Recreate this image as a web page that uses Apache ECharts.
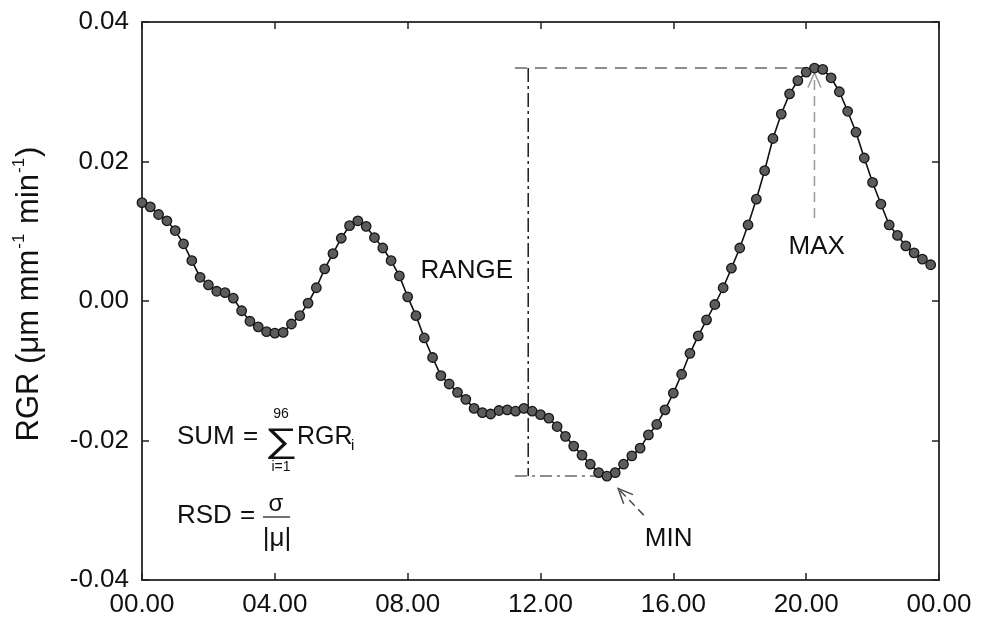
<!DOCTYPE html>
<html>
<head>
<meta charset="utf-8">
<script src="https://cdn.jsdelivr.net/npm/echarts@6/dist/echarts.min.js"></script>
<style>
  html, body { margin: 0; padding: 0; background: #fff; }
  #chart { width: 983px; height: 622px; }
</style>
</head>
<body>
<div id="chart"></div>
<script>
// Relative growth rate sampled every 15 minutes over one day (96 samples).
const sampleHours = [
  0.00, 0.25, 0.50, 0.75, 1.00, 1.25, 1.50, 1.75, 2.00, 2.25, 2.50, 2.75,
  3.00, 3.25, 3.50, 3.75, 4.00, 4.25, 4.50, 4.75, 5.00, 5.25, 5.50, 5.75,
  6.00, 6.25, 6.50, 6.75, 7.00, 7.25, 7.50, 7.75, 8.00, 8.25, 8.50, 8.75,
  9.00, 9.25, 9.50, 9.75, 10.00, 10.25, 10.50, 10.75, 11.00, 11.25, 11.50, 11.75,
  12.00, 12.25, 12.50, 12.75, 13.00, 13.25, 13.50, 13.75, 14.00, 14.25, 14.50, 14.75,
  15.00, 15.25, 15.50, 15.75, 16.00, 16.25, 16.50, 16.75, 17.00, 17.25, 17.50, 17.75,
  18.00, 18.25, 18.50, 18.75, 19.00, 19.25, 19.50, 19.75, 20.00, 20.25, 20.50, 20.75,
  21.00, 21.25, 21.50, 21.75, 22.00, 22.25, 22.50, 22.75, 23.00, 23.25, 23.50, 23.75
];
const rgrValues = [
  0.0141, 0.0135, 0.0124, 0.0115, 0.0101, 0.0082, 0.0058, 0.0034, 0.0023, 0.0014, 0.0012, 0.0004,
  -0.0014, -0.0029, -0.0037, -0.0044, -0.0046, -0.0045, -0.0033, -0.0021, -0.0003, 0.0019, 0.0046, 0.0068,
  0.0090, 0.0108, 0.0115, 0.0107, 0.0091, 0.0076, 0.0058, 0.0036, 0.0006, -0.0021, -0.0053, -0.0081,
  -0.0107, -0.0119, -0.0131, -0.0141, -0.0154, -0.0160, -0.0162, -0.0157, -0.0156, -0.0158, -0.0154, -0.0158,
  -0.0163, -0.0168, -0.0180, -0.0194, -0.0208, -0.0221, -0.0234, -0.0246, -0.0251, -0.0246, -0.0234, -0.0222,
  -0.0211, -0.0192, -0.0177, -0.0156, -0.0132, -0.0105, -0.0075, -0.0050, -0.0027, -0.0005, 0.0019, 0.0047,
  0.0076, 0.0109, 0.0146, 0.0187, 0.0233, 0.0268, 0.0297, 0.0316, 0.0328, 0.0334, 0.0332, 0.0320,
  0.0300, 0.0272, 0.0242, 0.0205, 0.0170, 0.0139, 0.0109, 0.0094, 0.0079, 0.0069, 0.0060, 0.0052
];
const xTickLabels = ['00.00', '04.00', '08.00', '12.00', '16.00', '20.00', '00.00'];
const yTickLabels = ['-0.04', '-0.02', '0.00', '0.02', '0.04'];

// Range guide: extremes of the series and where the bracket sits (hours).
const maxIndex = rgrValues.indexOf(Math.max(...rgrValues));
const minIndex = rgrValues.indexOf(Math.min(...rgrValues));
const maxHour = sampleHours[maxIndex], maxValue = rgrValues[maxIndex];
const minHour = sampleHours[minIndex], minValue = rgrValues[minIndex];
const rangeStartHour = 11.23;
const rangeBarHour = 11.63;

// Annotation arrows in data units: [tailHour, tailValue, tipHour, tipValue]
const maxArrow = [maxHour, 0.0119, maxHour, 0.0327];
const minArrow = [15.11, -0.0307, 14.34, -0.0269];
// Annotation captions: [text, hour, value]
const captions = [['RANGE', 9.78, 0.0043], ['MAX', 20.32, 0.0078], ['MIN', 15.86, -0.0341]];

const FONT = 'Liberation Sans, Arial, sans-serif';
const chart = echarts.init(document.getElementById('chart'), null, { renderer: 'canvas' });

function segmentSeries(segments, style) {
  return {
    type: 'custom',
    coordinateSystem: 'cartesian2d',
    silent: true,
    clip: false,
    z: 1,
    data: segments,
    renderItem: function (params, api) {
      const a = api.coord([api.value(0), api.value(1)]);
      const b = api.coord([api.value(2), api.value(3)]);
      return { type: 'line', shape: { x1: a[0], y1: a[1], x2: b[0], y2: b[1] }, style: style };
    }
  };
}

function arrowSeries(arrows, color, dash) {
  return {
    type: 'custom',
    coordinateSystem: 'cartesian2d',
    silent: true,
    clip: false,
    z: 1,
    data: arrows,
    renderItem: function (params, api) {
      const a = api.coord([api.value(0), api.value(1)]);
      const b = api.coord([api.value(2), api.value(3)]);
      const ang = Math.atan2(a[1] - b[1], a[0] - b[0]);
      const len = 16, spread = 0.42;
      const p1 = [b[0] + len * Math.cos(ang + spread), b[1] + len * Math.sin(ang + spread)];
      const p2 = [b[0] + len * Math.cos(ang - spread), b[1] + len * Math.sin(ang - spread)];
      return {
        type: 'group',
        children: [
          { type: 'line', shape: { x1: a[0], y1: a[1], x2: b[0], y2: b[1] },
            style: { stroke: color, lineWidth: 1.5, lineDash: dash } },
          { type: 'polyline', shape: { points: [p1, b, p2] },
            style: { stroke: color, lineWidth: 1.5, fill: null } }
        ]
      };
    }
  };
}

const axisLineStyle = { color: '#3a3a3a', width: 2 };
const tickStyle = { show: true, inside: true, length: 7, lineStyle: { color: '#222', width: 1.5 } };
// formula text helper (left- or centre-anchored, vertically centred)
const txt = function (x, y, text, size, align, extra) {
  return Object.assign({
    type: 'text', x: x, y: y,
    style: { text: text, fontSize: size, fontFamily: FONT, fill: '#111', align: align || 'left', verticalAlign: 'middle' }
  }, extra || {});
};

const option = {
  animation: false,
  backgroundColor: '#fff',
  grid: { left: 142, right: 44, top: 22, bottom: 42, containLabel: false },
  xAxis: [
    {
      type: 'value', min: 0, max: 24, interval: 4, position: 'bottom',
      axisLine: { show: true, onZero: false, lineStyle: axisLineStyle },
      axisTick: tickStyle,
      splitLine: { show: false },
      axisLabel: {
        fontSize: 26, color: '#111', fontFamily: FONT, margin: 12,
        formatter: function (v) { return xTickLabels[Math.round(v / 4)]; }
      }
    },
    {
      type: 'value', min: 0, max: 24, interval: 4, position: 'top',
      axisLine: { show: true, onZero: false, lineStyle: axisLineStyle },
      axisTick: tickStyle, splitLine: { show: false }, axisLabel: { show: false }
    }
  ],
  yAxis: [
    {
      type: 'value', min: -0.04, max: 0.04, interval: 0.02, position: 'left',
      axisLine: { show: true, onZero: false, lineStyle: axisLineStyle },
      axisTick: tickStyle,
      splitLine: { show: false },
      axisLabel: {
        fontSize: 26, color: '#111', fontFamily: FONT, margin: 13,
        formatter: function (v) { return yTickLabels[Math.round((v + 0.04) / 0.02)]; }
      }
    },
    {
      type: 'value', min: -0.04, max: 0.04, interval: 0.02, position: 'right',
      axisLine: { show: true, onZero: false, lineStyle: axisLineStyle },
      axisTick: tickStyle, splitLine: { show: false }, axisLabel: { show: false }
    }
  ],
  graphic: [
    // rotated y-axis title
    {
      type: 'text', x: 27, y: 294, rotation: Math.PI / 2,
      style: {
        text: '{n|RGR (μm mm}{s|-1}{n| min}{s|-1}{n|)}',
        align: 'center', verticalAlign: 'middle',
        rich: {
          n: { fontSize: 31, fontFamily: FONT, fill: '#111', lineHeight: 36, verticalAlign: 'bottom' },
          s: { fontSize: 17, fontFamily: FONT, fill: '#111', lineHeight: 36, verticalAlign: 'top', padding: [2, 1, 0, 1] }
        }
      }
    },
    // SUM formula
    txt(177, 437, 'SUM', 26),
    txt(243, 437, '=', 26),
    txt(281, 443, '∑', 34, 'center', { scaleX: 1.35 }),
    txt(281, 414, '96', 14, 'center'),
    txt(281, 467, 'i=1', 14, 'center'),
    txt(297, 437, 'RGR', 25),
    txt(351, 446, 'i', 15),
    // RSD formula
    txt(177, 516, 'RSD', 26),
    txt(240, 516, '=', 26),
    txt(276, 504, 'σ', 24, 'center'),
    { type: 'line', shape: { x1: 263, y1: 517, x2: 290, y2: 517 }, style: { stroke: '#111', lineWidth: 1.2 } },
    txt(277, 539, '|μ|', 26, 'center')
  ],
  series: [
    segmentSeries([[rangeStartHour, maxValue, maxHour, maxValue]],
      { stroke: '#8c8c8c', lineWidth: 2, lineDash: [12, 8] }),
    segmentSeries([[rangeBarHour, maxValue, rangeBarHour, minValue]],
      { stroke: '#1e1e1e', lineWidth: 1.5, lineDash: [14, 4, 3, 4] }),
    segmentSeries([[rangeStartHour, minValue, minHour, minValue]],
      { stroke: '#6a6a6a', lineWidth: 1.5, lineDash: [12, 5, 3, 5] }),
    arrowSeries([maxArrow], '#9a9a9a', [10, 6]),
    arrowSeries([minArrow], '#4a4a4a', [8, 5]),
    {
      type: 'custom', coordinateSystem: 'cartesian2d', silent: true, clip: false, z: 3,
      data: captions.map(function (c) { return [c[1], c[2]]; }),
      renderItem: function (params, api) {
        const p = api.coord([api.value(0), api.value(1)]);
        return {
          type: 'text', x: p[0], y: p[1],
          style: { text: captions[params.dataIndex][0], fontSize: 26, fontFamily: FONT, fill: '#111', align: 'center', verticalAlign: 'middle' }
        };
      }
    },
    {
      name: 'RGR', type: 'line', z: 5,
      data: sampleHours.map(function (h, i) { return [h, rgrValues[i]]; }),
      symbol: 'circle', symbolSize: 9.5, showAllSymbol: true,
      lineStyle: { color: '#111', width: 1.6 },
      itemStyle: { color: '#5c5c5c', borderColor: '#161616', borderWidth: 1.3 }
    }
  ]
};
chart.setOption(option);
</script>
</body>
</html>
